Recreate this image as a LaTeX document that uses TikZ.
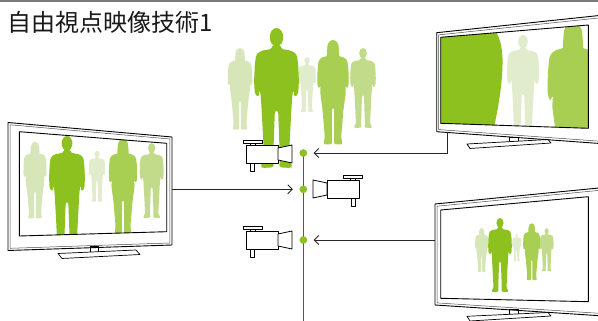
\documentclass[tikz,border=0pt]{standalone}
\usepackage{fontspec}
\newfontfamily\jpfont{Noto Sans CJK JP}
\usetikzlibrary{arrows.meta}

\definecolor{gDark}{HTML}{8CC11F}
\definecolor{gMid}{HTML}{A8CE52}
\definecolor{gSoft}{HTML}{C2DB8B}
\definecolor{gPale}{HTML}{D6E6B8}
\definecolor{gFaint}{HTML}{E0ECCC}
\definecolor{ruleGray}{HTML}{7A7A7A}
\definecolor{axisGray}{HTML}{555555}

\tikzset{
  frameout/.style={draw=black, line width=0.9pt, line join=round},
  framein/.style={draw=black!70, line width=0.5pt, line join=round},
  screenedge/.style={draw=black, line width=0.9pt, line join=round},
  standpart/.style={draw=black, fill=white, line width=0.7pt, line join=round},
  campart/.style={draw=black, fill=white, line width=0.8pt, line join=round},
  feed/.style={draw=black!85, line width=0.9pt,
    -{Straight Barb[length=4.5pt,width=9pt]}, shorten >=6.5pt},
  viewaxis/.style={draw=axisGray, line width=1.1pt},
  viewpoint/.style={circle, fill=gDark, inner sep=0pt, minimum size=7.4pt},
  camera/.pic={
    \draw[campart] (-3,-5) rectangle (16,-2);
    \draw[campart] (4,-2) rectangle (9,0);
    \draw[campart] (4,18) rectangle (8,26);
    \draw[campart] (0,0) rectangle (32,18);
    \draw[campart] (32,3) -- (46,0) -- (46,18) -- (32,15) -- cycle;
  }
}

% standing figures: centre x, top of head y, height, colour (y grows downwards)
\newcommand\drawman[4]{%
  \begin{scope}[shift={(#1,#2)}, scale=#3]
    \fill[#4] (0,0.066) ellipse [x radius=0.048, y radius=0.066];
    \fill[#4, rounded corners=#3*0.012pt]
      (-0.028,0.12) -- (-0.035,0.15) -- (-0.11,0.163) -- (-0.145,0.19) --
      (-0.155,0.26) -- (-0.16,0.38) -- (-0.155,0.47) -- (-0.13,0.495) --
      (-0.118,0.44) -- (-0.11,0.52) -- (-0.1,0.7) -- (-0.088,0.94) --
      (-0.115,0.99) -- (-0.1,1.0) -- (-0.02,0.995) -- (-0.024,0.93) --
      (-0.012,0.6) -- (0,0.585) -- (0.012,0.6) -- (0.024,0.93) --
      (0.02,0.995) -- (0.1,1.0) -- (0.115,0.99) -- (0.088,0.94) --
      (0.1,0.7) -- (0.11,0.52) -- (0.118,0.44) -- (0.13,0.495) --
      (0.155,0.47) -- (0.16,0.38) -- (0.155,0.26) -- (0.145,0.19) --
      (0.11,0.163) -- (0.035,0.15) -- (0.028,0.12) -- cycle;
  \end{scope}}
\newcommand\drawwoman[4]{%
  \begin{scope}[shift={(#1,#2)}, scale=#3]
    \fill[#4] (0,0.072) ellipse [x radius=0.055, y radius=0.072];
    \fill[#4, rounded corners=#3*0.015pt]
      (-0.055,0.07) -- (-0.062,0.18) -- (0.062,0.18) -- (0.055,0.07) -- cycle;
    \fill[#4, rounded corners=#3*0.012pt]
      (-0.03,0.125) -- (-0.045,0.15) -- (-0.11,0.168) -- (-0.138,0.2) --
      (-0.148,0.3) -- (-0.15,0.42) -- (-0.135,0.465) -- (-0.118,0.43) --
      (-0.122,0.5) -- (-0.1,0.66) -- (-0.078,0.92) -- (-0.09,0.995) --
      (-0.012,0.995) -- (-0.01,0.66) -- (0,0.64) -- (0.01,0.66) --
      (0.012,0.995) -- (0.09,0.995) -- (0.078,0.92) -- (0.1,0.66) --
      (0.122,0.5) -- (0.118,0.43) -- (0.135,0.465) -- (0.15,0.42) --
      (0.148,0.3) -- (0.138,0.2) -- (0.11,0.168) -- (0.045,0.15) --
      (0.03,0.125) -- cycle;
  \end{scope}}

\begin{document}
\begin{tikzpicture}[x=1pt, y=-1pt]
\useasboundingbox (0,0) rectangle (598,321);
\clip (0,0) rectangle (598,321);

% header rule and title
\draw[ruleGray, line width=2.5pt] (0,1.2) -- (598,1.2);
\node[anchor=west, inner sep=0pt, text=black!90,
      font=\jpfont\fontsize{24}{24}\selectfont] (title) at (7,22) {自由視点映像技術1};

% the group in the studio
\drawwoman{240}{48}{82}{gPale}
\drawman{307}{57}{55}{gFaint}
\drawman{363}{48}{80}{gSoft}
\drawwoman{333}{40}{105}{gMid}
\drawman{276.5}{28}{140}{gDark}

% viewpoint axis with its three positions
\coordinate (axisEnd) at (303.3,321);
\node[viewpoint] (dot1) at (303.3,153) {};
\node[viewpoint] (dot2) at (303.3,189.3) {};
\node[viewpoint] (dot3) at (303.3,240) {};
\draw[viewaxis] (dot1.center) -- (axisEnd);
\node[viewpoint] at (dot1) {};
\node[viewpoint] at (dot2) {};
\node[viewpoint] at (dot3) {};

% cameras
\pic (cam1) at (246,145) {camera};
\pic[xscale=-1] (cam2) at (359,180) {camera};
\pic (cam3) at (246,231) {camera};

% ---- left display ----
\draw[standpart] (90,246) rectangle (98,252.5);
\draw[standpart] (58,253.5) -- (136,250) -- (140,254.5) -- (62,258.5) -- cycle;
\draw[frameout] (8,122.5) -- (172,137) -- (172,245) -- (8,250.5) -- cycle;
\draw[framein] (10.2,124.8) -- (169.8,139) -- (169.8,243) -- (10.2,248.3) -- cycle;
\begin{scope}
  \clip (19.3,131.7) -- (166.7,143.3) -- (166.7,231.7) -- (19.3,236) -- cycle;
  \drawwoman{35}{141.7}{77}{gPale}
  \drawman{97}{150.7}{51}{gFaint}
  \drawman{151.7}{143}{75}{gSoft}
  \drawwoman{123}{139}{95}{gMid}
  \drawman{67}{136}{112}{gDark}
\end{scope}
\draw[screenedge] (19.3,131.7) -- (166.7,143.3) -- (166.7,231.7) -- (19.3,236) -- cycle;
\coordinate (tvLeftOut) at (172,189.3);

% ---- upper right display (close-up) ----
\draw[standpart] (509,137.3) rectangle (518,143.5);
\draw[standpart] (467,144) -- (548,139.5) -- (551,143) -- (470,148.5) -- cycle;
\draw[frameout] (436.7,32.7) -- (604,15) -- (604,143.8) -- (436.7,131.7) -- cycle;
\draw[framein] (438.7,34.9) -- (604,17.4) -- (604,141.5) -- (438.7,129.6) -- cycle;
\begin{scope}
  \clip (440.7,37.3) -- (588.3,25) -- (588.3,128.3) -- (440.7,123.3) -- cycle;
  % shoulder and arm of the nearest figure
  \fill[gDark] (430,20) -- (488,24)
    .. controls (497,28) and (502,42) .. (502.5,58)
    .. controls (503,80) and (499,105) .. (493,132) -- (430,132) -- cycle;
  \drawman{523}{35}{100}{gFaint}
  \drawwoman{573}{22}{170}{gMid}
\end{scope}
\draw[screenedge] (440.7,37.3) -- (588.3,25) -- (588.3,128.3) -- (440.7,123.3) -- cycle;
\coordinate (tvUpperOut) at (447,132.4);

% ---- lower right display ----
\draw[standpart] (509,309.8) rectangle (518,315.5);
\draw[standpart] (467,316.3) -- (548,312.5) -- (551,316) -- (470,321) -- cycle;
\draw[frameout] (435,204) -- (604,187.5) -- (604,316) -- (435,305) -- cycle;
\draw[framein] (437,206.2) -- (604,189.9) -- (604,313.6) -- (437,302.9) -- cycle;
\begin{scope}
  \clip (440.7,210) -- (588.3,196.7) -- (588.3,301.7) -- (440.7,298.3) -- cycle;
  \drawwoman{481.7}{228}{44}{gPale}
  \drawman{516.7}{233.3}{28}{gFaint}
  \drawman{546.7}{228.3}{43}{gSoft}
  \drawwoman{531.7}{223.3}{57}{gMid}
  \drawman{500}{218}{74}{gDark}
\end{scope}
\draw[screenedge] (440.7,210) -- (588.3,196.7) -- (588.3,301.7) -- (440.7,298.3) -- cycle;
\coordinate (tvLowerOut) at (435,240);

% feeds between displays and viewpoints
\draw[feed] (tvUpperOut) |- (dot1);
\draw[feed] (tvLeftOut) -- (dot2);
\draw[feed] (tvLowerOut) -- (dot3);
\end{tikzpicture}
\end{document}
